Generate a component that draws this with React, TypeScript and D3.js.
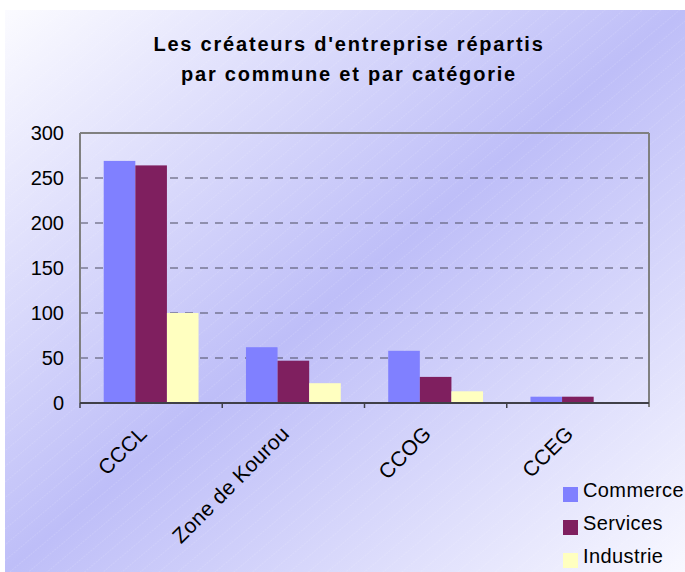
import React from "react";
import * as d3 from "d3";

const categories = ["CCCL", "Zone de Kourou", "CCOG", "CCEG"];
const seriesNames = ["Commerce", "Services", "Industrie"];
const commerce = [269, 62, 58, 7];
const services = [264, 47, 29, 7];
const industrie = [100, 22, 13, 0];
const seriesValues = [commerce, services, industrie];
const seriesColors = ["#8080ff", "#7f1f5f", "#ffffc0"];
const yTicks = [0, 50, 100, 150, 200, 250, 300];
const titleLines = ["Les créateurs d'entreprise répartis", "par commune et par catégorie"];

const W = 685;
const H = 572;
const plot = { left: 80, right: 649, top: 133, bottom: 403 };

export default function App() {
  const y = d3.scaleLinear().domain([0, 300]).range([plot.bottom, plot.top]);
  const x = d3.scaleBand<string>().domain(categories).range([plot.left, plot.right]).padding(0);
  const bw = x.bandwidth();
  const x1 = d3
    .scaleBand<string>()
    .domain(seriesNames)
    .range([bw / 6, (5 * bw) / 6])
    .padding(0);
  const font = "Arial, 'Liberation Sans', sans-serif";

  return (
    <svg
      width={W}
      height={H}
      style={{ position: "absolute", left: 0, top: 0, display: "block" }}
      fontFamily={font}
    >
      <defs>
        <linearGradient id="bg" x1="0" y1="0" x2="1" y2="1">
          <stop offset="0" stopColor="#fbfbff" />
          <stop offset="0.5" stopColor="#bebef8" />
          <stop offset="1" stopColor="#f8f8ff" />
        </linearGradient>
        <pattern
          id="hatch"
          width="12"
          height="12"
          patternUnits="userSpaceOnUse"
          patternTransform="rotate(-40)"
        >
          <line x1="0" y1="0" x2="12" y2="0" stroke="#ffffff" strokeWidth="0.8" strokeOpacity="0.3" strokeDasharray="2 1" />
        </pattern>
      </defs>
      <rect x={0} y={0} width={W} height={H} fill="#ffffff" />
      <rect x={5} y={10} width={W - 5} height={H - 10} fill="url(#bg)" />
      <rect x={5} y={10} width={W - 5} height={H - 10} fill="url(#hatch)" />

      {/* Title */}
      {titleLines.map((t, i) => (
        <text
          key={"title" + i}
          x={349}
          y={51 + i * 30}
          textAnchor="middle"
          fontWeight="bold"
          fontSize={20}
          letterSpacing={1.8}
          fill="#000"
        >
          {t}
        </text>
      ))}

      {/* Gridlines */}
      {yTicks
        .filter((t) => t > 0 && t < 300)
        .map((t) => (
          <line
            key={"g" + t}
            x1={plot.left}
            x2={plot.right}
            y1={y(t)}
            y2={y(t)}
            stroke="#4c4c60"
            strokeWidth={1.2}
            strokeDasharray="8 7"
          />
        ))}

      {/* Plot border */}
      <line x1={plot.left} x2={plot.right} y1={plot.top} y2={plot.top} stroke="#808080" strokeWidth={2} />
      <line x1={plot.right} x2={plot.right} y1={plot.top} y2={plot.bottom + 4} stroke="#808080" strokeWidth={2} />
      <line x1={plot.left} x2={plot.left} y1={plot.top} y2={plot.bottom} stroke="#808080" strokeWidth={2} />

      {/* Bars */}
      {categories.map((c, ci) =>
        seriesNames.map((s, si) => {
          const v = seriesValues[si][ci];
          const bx = (x(c) as number) + (x1(s) as number);
          return (
            <rect
              key={c + s}
              x={bx}
              y={y(v)}
              width={x1.bandwidth()}
              height={plot.bottom - y(v)}
              fill={seriesColors[si]}
            />
          );
        })
      )}

      {/* Y axis labels */}
      {yTicks.map((t) => (
        <text key={"yl" + t} x={64} y={y(t)} dy="0.35em" textAnchor="end" fontSize={20} fill="#000">
          {t}
        </text>
      ))}

      {/* X axis */}
      <line x1={plot.left} x2={plot.right} y1={plot.bottom} y2={plot.bottom} stroke="#404048" strokeWidth={2} />
      {categories.map((c) => (
        <line
          key={"t" + c}
          x1={x(c) as number}
          x2={x(c) as number}
          y1={plot.bottom}
          y2={plot.bottom + 5}
          stroke="#404048"
          strokeWidth={1.5}
        />
      ))}
      <line x1={plot.right} x2={plot.right} y1={plot.bottom} y2={plot.bottom} stroke="#404048" strokeWidth={1.5} />

      {categories.map((c) => {
        const cx = (x(c) as number) + bw / 2 - 3;
        const cy = 435;
        return (
          <text
            key={"xl" + c}
            transform={`translate(${cx},${cy}) rotate(-45)`}
            textAnchor="end"
            fontSize={21}
            letterSpacing={0.3}
            fill="#000"
          >
            {c}
          </text>
        );
      })}

      {/* Legend */}
      {seriesNames.map((s, i) => (
        <g key={"lg" + s} transform={`translate(563, ${487 + i * 33})`}>
          <rect x={0} y={0} width={15} height={15} fill={seriesColors[i]} />
          <text x={20} y={10} fontSize={20} letterSpacing={0.4} fill="#000">
            {s}
          </text>
        </g>
      ))}
    </svg>
  );
}
